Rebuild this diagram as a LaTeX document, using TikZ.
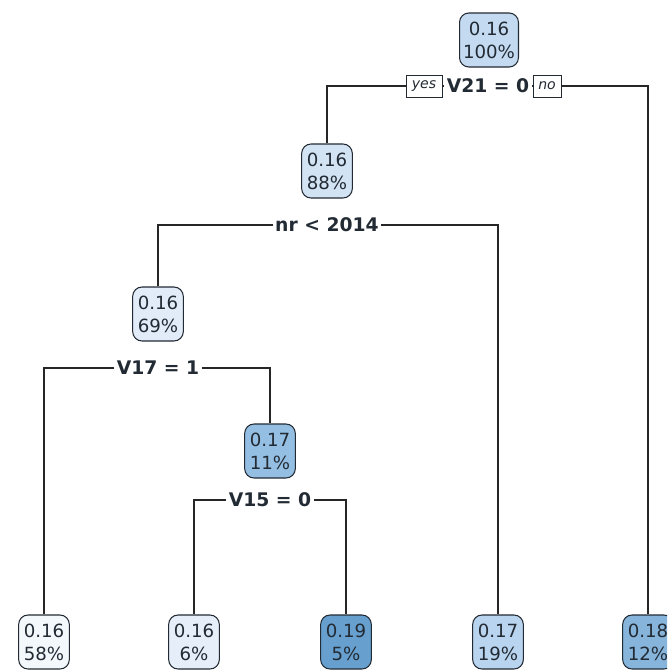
\documentclass[tikz,border=0pt]{standalone}
\usepackage{fontspec}
\setmainfont{DejaVu Sans}
\usetikzlibrary{positioning}
\definecolor{ink}{HTML}{222A33}
\definecolor{edge}{HTML}{262626}
\definecolor{blueRoot}{HTML}{C4DAF0}
\definecolor{blueA}{HTML}{D2E3F4}
\definecolor{blueB}{HTML}{E1ECF8}
\definecolor{blueC}{HTML}{94BFE2}
\definecolor{leafA}{HTML}{F3F8FD}
\definecolor{leafB}{HTML}{E6EFF9}
\definecolor{leafC}{HTML}{67A0CF}
\definecolor{leafD}{HTML}{B9D4EE}
\definecolor{leafE}{HTML}{86B4DB}
\tikzset{
  treenode/.style={draw=ink,line width=0.9pt,rounded corners=8pt,align=center,font=\fontsize{15.5}{19.5}\selectfont,text=ink,minimum width=1.52cm,minimum height=1.62cm,inner xsep=3pt,inner ysep=2pt},
  splitlab/.style={fill=white,font=\bfseries\fontsize{16}{19}\selectfont,text=ink,inner sep=2pt},
  yesno/.style={draw=ink,fill=white,line width=0.7pt,font=\itshape\fontsize{12}{14}\selectfont,text=ink,inner sep=1pt,minimum height=0.66cm,minimum width=1.08cm},
  branch/.style={draw=edge,line width=1pt}
}
\begin{document}
\begin{tikzpicture}[x=0.03cm,y=-0.03cm]
  \useasboundingbox (0,0) rectangle (667,670);
  \clip (0,0) rectangle (667,670);

  \node[treenode,fill=blueRoot] (root) at (489,40) {0.16\\100\%};
  \node[splitlab] (sRoot) at (488,86) {V21 = 0};
  \node[yesno] (yes) at (424,86) {yes};
  \node[yesno,minimum width=0.84cm] (no) at (547,86) {no};

  \node[treenode,fill=blueA] (nA) at (327,171) {0.16\\88\%};
  \node[splitlab] (sA) at (327,225) {nr < 2014};

  \node[treenode,fill=blueB] (nB) at (158,314) {0.16\\69\%};
  \node[splitlab] (sB) at (158,368) {V17 = 1};

  \node[treenode,fill=blueC] (nC) at (270,451) {0.17\\11\%};
  \node[splitlab] (sC) at (270,500) {V15 = 0};

  \node[treenode,fill=leafA] (lA) at (44,642) {0.16\\58\%};
  \node[treenode,fill=leafB] (lB) at (194,642) {0.16\\6\%};
  \node[treenode,fill=leafC] (lC) at (346,642) {0.19\\5\%};
  \node[treenode,fill=leafD] (lD) at (498,642) {0.17\\19\%};
  \node[treenode,fill=leafE] (lE) at (648,642) {0.18\\12\%};

  \draw[branch] (sRoot.west) -- (yes.east);
  \draw[branch] (yes.west) -| (nA.north);
  \draw[branch] (sRoot.east) -- (no.west);
  \draw[branch] (no.east) -| (lE.north);
  \draw[branch] (sA.west) -| (nB.north);
  \draw[branch] (sA.east) -| (lD.north);
  \draw[branch] (sB.west) -| (lA.north);
  \draw[branch] (sB.east) -| (nC.north);
  \draw[branch] (sC.west) -| (lB.north);
  \draw[branch] (sC.east) -| (lC.north);
\end{tikzpicture}
\end{document}
